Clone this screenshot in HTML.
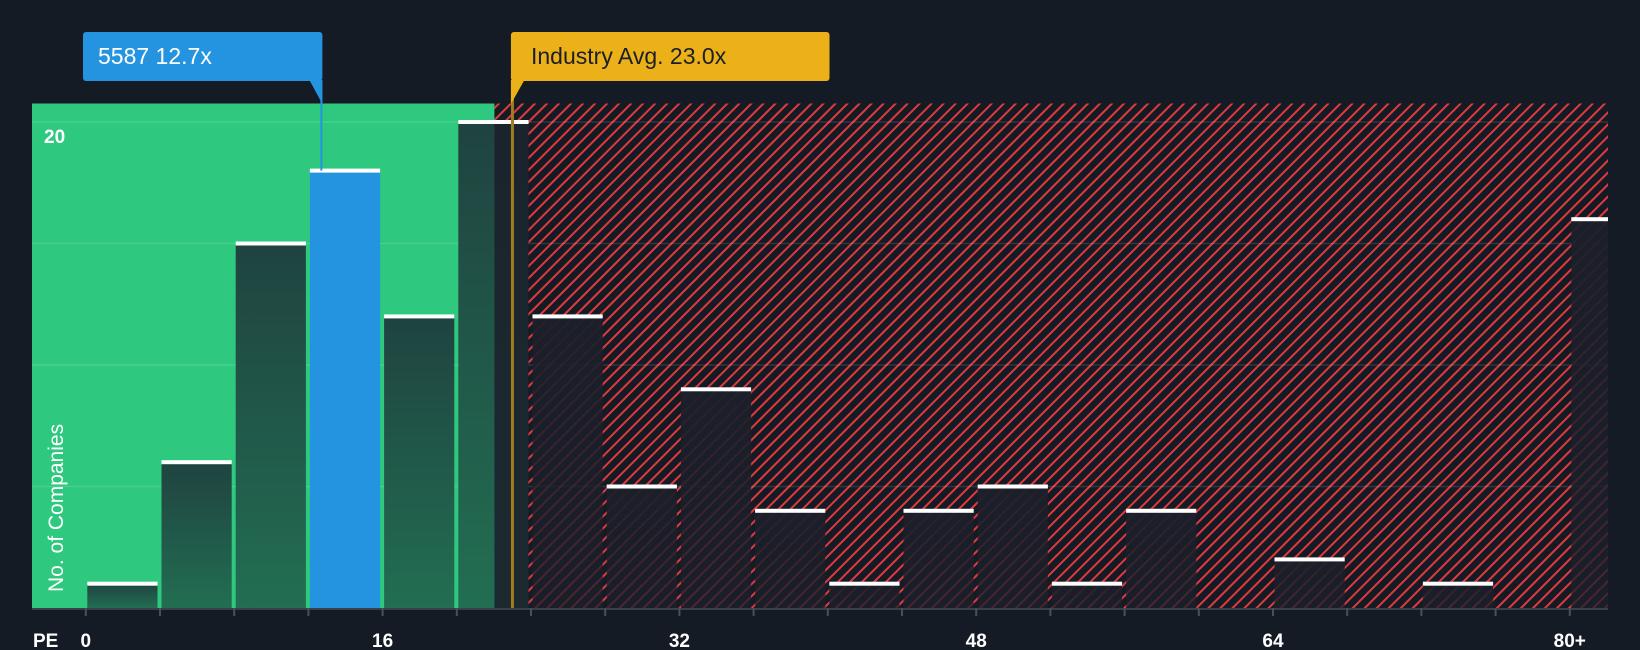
<!DOCTYPE html>
<html><head><meta charset="utf-8"><style>
html,body{margin:0;padding:0;background:#151b24;}
svg{display:block;font-family:"Liberation Sans",sans-serif;}
</style></head><body>
<svg id="chart" width="1640" height="650" viewBox="0 0 1640 650" xmlns="http://www.w3.org/2000/svg">
<defs>
<pattern id="hatch" patternUnits="userSpaceOnUse" width="8.5" height="8.5" patternTransform="rotate(45)">
<rect width="8.5" height="8.5" fill="#151b24"/>
<rect x="0" y="0" width="2" height="8.5" fill="#e0393e"/>
</pattern>
<linearGradient id="gbar" x1="0" y1="0" x2="0" y2="1">
<stop offset="0" stop-color="#1f4340"/><stop offset="1" stop-color="#226e52"/>
</linearGradient>
<linearGradient id="rbar" x1="0" y1="0" x2="0" y2="1">
<stop offset="0" stop-color="#1b1f2a" stop-opacity="0.95"/><stop offset="1" stop-color="#1b1f2a" stop-opacity="0.75"/>
</linearGradient>
</defs>
<g id="bg"></g>
<g id="grid"></g>
<g id="bars"></g>
<g id="axis"></g>
<g id="labels"></g>
</svg>
<script>
const binLabels=["0","4","8","12","16","20","24","28","32","36","40","44","48","52","56","60","64","68","72","76","80+"];
const counts=[1,6,15,18,12,20,12,5,9,4,1,4,5,1,4,0,2,0,1,0,16];
const tickLabels=["0","16","32","48","64","80+"];
const tickValues=[0,16,32,48,64,80];
const gridValues=[5,10,15,20];
const companyPE=12.7;
const industryPE=23.0;
const highlightBin=3;

const NS="http://www.w3.org/2000/svg";
const L=32,R=1608,T=103.5,B=608;
const x0=85.8,binW=74.2;
function xs(pe){return x0+pe/4*binW;}
function ys(v){return B-v*24.3;}
function mk(tag,attrs,parent){const e=document.createElementNS(NS,tag);for(const k in attrs)e.setAttribute(k,attrs[k]);parent.appendChild(e);return e;}
const bg=document.getElementById('bg'),grid=document.getElementById('grid'),bars=document.getElementById('bars'),axis=document.getElementById('axis'),labels=document.getElementById('labels');
const xi=xs(industryPE)-18;
let r=mk('rect',{x:L,y:T,width:xi-L,height:B-T,fill:'#2ec97f'},bg);


r=mk('rect',{x:xi,y:T,width:R-xi,height:B-T,fill:'url(#hatch)'},bg);


gridValues.forEach(v=>{
 const g=mk('line',{x1:L,x2:R,y1:ys(v),y2:ys(v),stroke:'#ffffff','stroke-opacity':0.12,'stroke-width':1.5},grid);
 
 
});
counts.forEach((c,i)=>{
 const xa=x0+i*binW+1.5;
 let w=binW-4;
 if(xa+w>R)w=R-xa;
 if(c<=0)return;
 let fill=i===highlightBin?'#2493e0':(xa<xi?'url(#gbar)':'url(#rbar)');
 const b=mk('rect',{x:xa,y:ys(c),width:w,height:B-ys(c),fill:fill},bars);
 
 
 if(xa<xi&&xa+w>xi&&i!==highlightBin){
  mk('rect',{x:xi,y:ys(c),width:xa+w-xi,height:B-ys(c),fill:'#1b1f2a','fill-opacity':0.85},bars);
 }
 const cap=mk('rect',{x:xa,y:ys(c)-2,width:w,height:4,fill:'#ffffff'},bars);
 
 
});
let a=mk('line',{x1:L,x2:R,y1:B+1,y2:B+1,stroke:'#3a404a','stroke-width':2},axis);


for(let i=0;i<binLabels.length;i++){
 const t=mk('line',{x1:x0+i*binW,x2:x0+i*binW,y1:B,y2:B+8,stroke:'#4a505a','stroke-width':2},axis);
 
 
}
tickValues.forEach((v,i)=>{
 const t=mk('text',{x:xs(v),y:647,fill:'#ffffff','font-size':19,'text-anchor':'middle','font-weight':'bold'},axis);
 t.textContent=tickLabels[i];
 
 
});
let t=mk('text',{x:33,y:647,fill:'#ffffff','font-size':19,'font-weight':'bold'},axis);
t.textContent='PE';


t=mk('text',{x:44,y:143,fill:'#ffffff','font-size':19,'font-weight':'bold'},axis);
t.textContent='20';


t=mk('text',{x:0,y:0,fill:'#ffffff','font-size':21,transform:'translate(63,592) rotate(-90)'},axis);
t.textContent='No. of Companies';


const xc=xs(companyPE),xa2=xs(industryPE);
let l=mk('line',{x1:xa2,x2:xa2,y1:80,y2:B,stroke:'#a07d1c','stroke-width':3},labels);


l=mk('line',{x1:xc,x2:xc,y1:80,y2:ys(counts[highlightBin]),stroke:'#2493e0','stroke-width':2},labels);


let g=mk('g',{},labels);


mk('rect',{x:83,y:32,width:xc-83+1,height:49,rx:3,fill:'#2493e0'},g);
mk('path',{d:`M${xc-12} 80 L${xc+1} 80 L${xc+1} 104 Z`,fill:'#2493e0'},g);
t=mk('text',{x:98,y:64,fill:'#ffffff','font-size':23},g);
t.textContent='5587 12.7x';
g=mk('g',{},labels);


mk('rect',{x:xa2-1.5,y:32,width:831-xa2,height:49,rx:3,fill:'#ecb118'},g);
mk('path',{d:`M${xa2-1.5} 80 L${xa2+12} 80 L${xa2-1.5} 104 Z`,fill:'#ecb118'},g);
t=mk('text',{x:531,y:64,fill:'#1a1f28','font-size':23},g);
t.textContent='Industry Avg. 23.0x';
</script>
</body></html>
